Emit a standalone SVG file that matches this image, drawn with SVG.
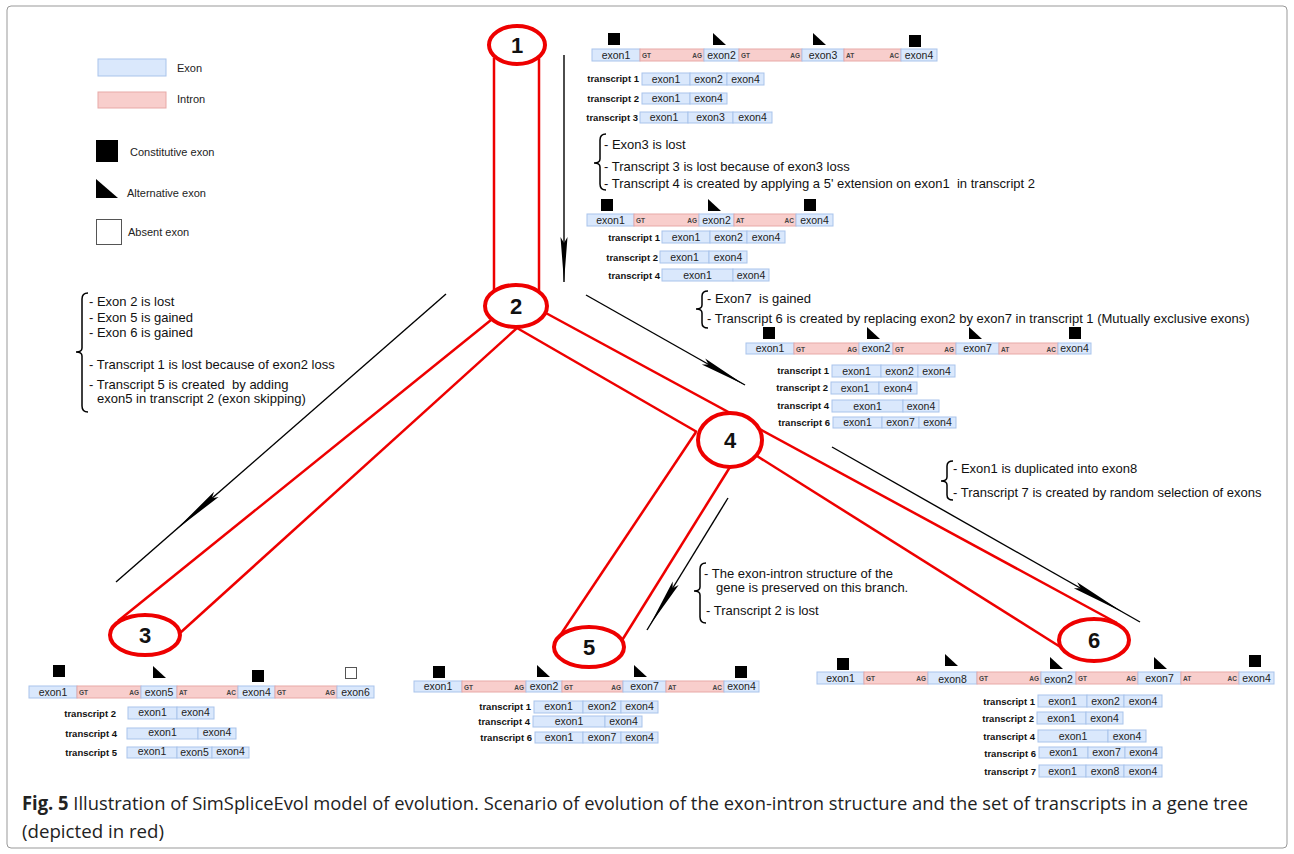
<svg xmlns="http://www.w3.org/2000/svg" xmlns:xlink="http://www.w3.org/1999/xlink" width="1294" height="854" viewBox="0 0 1294 854">
<style>
text{font-family:"Liberation Sans",Arial,sans-serif;fill:#222}
.ex{fill:#dae8fc;stroke:#a9c4eb;stroke-width:1}
.in{fill:#f8cecc;stroke:#e8a9a7;stroke-width:1}
.el{font-size:10.5px;text-anchor:middle}
.ss{font-size:6.5px;font-weight:bold;fill:#444}
.se{font-size:6.5px;font-weight:bold;fill:#444;text-anchor:end}
.tl{font-size:9.5px;font-weight:bold;text-anchor:end;fill:#111}
.note{font-size:13px;fill:#111;white-space:pre}
.lg{font-size:11px;fill:#222}
.node ellipse{fill:#fff;stroke:#ee0000;stroke-width:4}
.node text{font-size:22px;font-weight:bold;text-anchor:middle;fill:#111}
.br{stroke:#ee0000;stroke-width:2.5;fill:none}
.ar{stroke:#000;stroke-width:1.4}
.ah{fill:#000}
.brace{stroke:#000;stroke-width:1.5;fill:none}
</style>
<defs>
<rect id="sq" width="12" height="12" fill="#000"/>
<path id="tri" d="M0,0 L13,12 L0,12 Z" fill="#000"/>
</defs>
<rect x="7" y="6" width="1280" height="842" rx="4" fill="#fff" stroke="#999" stroke-width="1"/>

<g id="legend">
<rect class="ex" x="98" y="59" width="68" height="17"/>
<text class="lg" x="177" y="72">Exon</text>
<rect class="in" x="98" y="92" width="68" height="16"/>
<text class="lg" x="177" y="103">Intron</text>
<rect x="96" y="140" width="22" height="22" fill="#000"/>
<text class="lg" x="130" y="156">Constitutive exon</text>
<path d="M96,179 L118,198 L96,198 Z" fill="#000"/>
<text class="lg" x="127" y="197">Alternative exon</text>
<rect x="96.5" y="219.5" width="25" height="25" fill="#fff" stroke="#555" stroke-width="1"/>
<text class="lg" x="128" y="236">Absent exon</text>
</g>

<g id="connectors">
<line class="br" x1="494" y1="58" x2="494" y2="297"/>
<line class="br" x1="539" y1="58" x2="539" y2="296"/>
<line class="br" x1="491" y1="320" x2="118" y2="621"/>
<line class="br" x1="517" y1="328" x2="180" y2="633"/>
<line class="br" x1="544" y1="312" x2="1117" y2="623"/>
<line class="br" x1="517" y1="328" x2="697" y2="432"/>
<line class="br" x1="757" y1="456" x2="1062" y2="648"/>
<line class="br" x1="696" y1="432" x2="557" y2="640"/>
<line class="br" x1="730" y1="467" x2="621" y2="642"/>

<line class="ar" x1="564" y1="55" x2="564" y2="282"/>
<polygon class="ah" points="564,282 567.5,237 564,243 560.5,237"/>
<line class="ar" x1="446" y1="294" x2="116" y2="582"/>
<polygon class="ah" points="175,530.5 218.6,497 211.8,498.3 214,491.8"/>
<line class="ar" x1="586" y1="295" x2="745" y2="385"/>
<polygon class="ah" points="744.3,384.7 701.8,364.6 708.7,364.6 705.2,358.6"/>
<line class="ar" x1="832" y1="447" x2="1140" y2="622"/>
<polygon class="ah" points="1123.3,612.5 1073.8,588.3 1080.7,588.3 1077.2,582.3"/>
<line class="ar" x1="728" y1="498" x2="647" y2="630"/>
<polygon class="ah" points="649.5,625.8 678.7,585 672.6,588.3 672.7,581.4"/>
</g>

<g id="node1" class="node"><ellipse cx="517" cy="45" rx="28" ry="19"/><text x="517" y="53">1</text></g>
<g id="node2" class="node"><ellipse cx="516" cy="306" rx="31" ry="21"/><text x="516" y="314">2</text></g>
<g id="node3" class="node"><ellipse cx="145" cy="635" rx="35" ry="20"/><text x="145" y="643">3</text></g>
<g id="node4" class="node"><ellipse cx="730" cy="440" rx="32" ry="27"/><text x="730" y="448">4</text></g>
<g id="node5" class="node"><ellipse cx="589" cy="647" rx="35" ry="20"/><text x="589" y="655">5</text></g>
<g id="node6" class="node"><ellipse cx="1094" cy="640" rx="35" ry="21"/><text x="1094" y="648">6</text></g>

<g id="gene1">
<use href="#sq" x="608" y="33"/><use href="#tri" x="713" y="33"/><use href="#tri" x="813" y="33"/><use href="#sq" x="909" y="35"/>
<rect class="ex" x="592" y="49" width="48" height="12"/><text class="el" x="616" y="58.5">exon1</text>
<rect class="in" x="640" y="49" width="64" height="12"/><text class="ss" x="642" y="57.5">GT</text><text class="se" x="702" y="57.5">AG</text>
<rect class="ex" x="704" y="49" width="35" height="12"/><text class="el" x="721.5" y="58.5">exon2</text>
<rect class="in" x="739" y="49" width="63" height="12"/><text class="ss" x="741" y="57.5">GT</text><text class="se" x="800" y="57.5">AG</text>
<rect class="ex" x="802" y="49" width="42" height="12"/><text class="el" x="823" y="58.5">exon3</text>
<rect class="in" x="844" y="49" width="57" height="12"/><text class="ss" x="846" y="57.5">AT</text><text class="se" x="899" y="57.5">AC</text>
<rect class="ex" x="901" y="49" width="36" height="12"/><text class="el" x="919" y="58.5">exon4</text>
<text class="tl" x="639" y="82">transcript 1</text>
<rect class="ex" x="642" y="73" width="48" height="12"/><text class="el" x="666" y="82.5">exon1</text>
<rect class="ex" x="690" y="73" width="37" height="12"/><text class="el" x="708.5" y="82.5">exon2</text>
<rect class="ex" x="727" y="73" width="37" height="12"/><text class="el" x="745.5" y="82.5">exon4</text>
<text class="tl" x="639" y="102">transcript 2</text>
<rect class="ex" x="642" y="93" width="48" height="11"/><text class="el" x="666" y="102">exon1</text>
<rect class="ex" x="690" y="93" width="37" height="11"/><text class="el" x="708.5" y="102">exon4</text>
<text class="tl" x="638" y="121">transcript 3</text>
<rect class="ex" x="640" y="112" width="48" height="11"/><text class="el" x="664" y="121">exon1</text>
<rect class="ex" x="688" y="112" width="45" height="11"/><text class="el" x="710.5" y="121">exon3</text>
<rect class="ex" x="733" y="112" width="39" height="11"/><text class="el" x="752.5" y="121">exon4</text>
</g>

<g id="note1">
<path class="brace" d="M606,134 Q600,134 600,140 L600,159 Q600,163 594,163 Q600,163 600,167 L600,184 Q600,190 606,190"/>
<text class="note" x="604" y="149">- Exon3 is lost</text>
<text class="note" x="604" y="171">- Transcript 3 is lost because of exon3 loss</text>
<text class="note" x="604" y="188">- Transcript 4 is created by applying a 5' extension on exon1  in transcript 2</text>
</g>

<g id="gene2">
<use href="#sq" x="601" y="199"/><use href="#tri" x="708" y="199"/><use href="#sq" x="804" y="199"/>
<rect class="ex" x="587" y="214" width="47" height="12"/><text class="el" x="610.5" y="223.5">exon1</text>
<rect class="in" x="634" y="214" width="65" height="12"/><text class="ss" x="636" y="222.5">GT</text><text class="se" x="697" y="222.5">AG</text>
<rect class="ex" x="699" y="214" width="35" height="12"/><text class="el" x="716.5" y="223.5">exon2</text>
<rect class="in" x="734" y="214" width="62" height="12"/><text class="ss" x="736" y="222.5">AT</text><text class="se" x="794" y="222.5">AC</text>
<rect class="ex" x="796" y="214" width="37" height="12"/><text class="el" x="814.5" y="223.5">exon4</text>
<text class="tl" x="660" y="240.5">transcript 1</text>
<rect class="ex" x="662" y="231" width="48" height="12"/><text class="el" x="686" y="240.5">exon1</text>
<rect class="ex" x="710" y="231" width="37" height="12"/><text class="el" x="728.5" y="240.5">exon2</text>
<rect class="ex" x="747" y="231" width="38" height="12"/><text class="el" x="766" y="240.5">exon4</text>
<text class="tl" x="658" y="260.5">transcript 2</text>
<rect class="ex" x="660" y="251" width="49" height="12"/><text class="el" x="684.5" y="260.5">exon1</text>
<rect class="ex" x="709" y="251" width="38" height="12"/><text class="el" x="728" y="260.5">exon4</text>
<text class="tl" x="660" y="278.5">transcript 4</text>
<rect class="ex" x="662" y="269" width="71" height="12"/><text class="el" x="697.5" y="278.5">exon1</text>
<rect class="ex" x="733" y="269" width="36" height="12"/><text class="el" x="751" y="278.5">exon4</text>
</g>

<g id="note2">
<path class="brace" d="M88,293 Q82,293 82,299 L82,348 Q82,352 76,352 Q82,352 82,356 L82,406 Q82,412 88,412"/>
<text class="note" x="89" y="306">- Exon 2 is lost</text>
<text class="note" x="89" y="322">- Exon 5 is gained</text>
<text class="note" x="89" y="337">- Exon 6 is gained</text>
<text class="note" x="89" y="369">- Transcript 1 is lost because of exon2 loss</text>
<text class="note" x="89" y="389">- Transcript 5 is created  by adding</text>
<text class="note" x="97" y="403">exon5 in transcript 2 (exon skipping)</text>
</g>

<g id="note3">
<path class="brace" d="M708,291 Q702,291 702,296 L702,305 Q702,309 696,309 Q702,309 702,313 L702,323 Q702,328 708,328"/>
<text class="note" x="707" y="303">- Exon7  is gained</text>
<text class="note" x="707" y="323">- Transcript 6 is created by replacing exon2 by exon7 in transcript 1 (Mutually exclusive exons)</text>
</g>

<g id="gene3">
<use href="#sq" x="763" y="327"/><use href="#tri" x="867" y="327"/><use href="#tri" x="969" y="327"/><use href="#sq" x="1069" y="327"/>
<rect class="ex" x="746" y="343" width="48" height="11"/><text class="el" x="770" y="352">exon1</text>
<rect class="in" x="794" y="343" width="65" height="11"/><text class="ss" x="796" y="351.5">GT</text><text class="se" x="857" y="351.5">AG</text>
<rect class="ex" x="859" y="343" width="34" height="11"/><text class="el" x="876" y="352">exon2</text>
<rect class="in" x="893" y="343" width="63" height="11"/><text class="ss" x="895" y="351.5">GT</text><text class="se" x="954" y="351.5">AG</text>
<rect class="ex" x="956" y="343" width="43" height="11"/><text class="el" x="977.5" y="352">exon7</text>
<rect class="in" x="999" y="343" width="59" height="11"/><text class="ss" x="1001" y="351.5">AT</text><text class="se" x="1056" y="351.5">AC</text>
<rect class="ex" x="1058" y="343" width="33" height="11"/><text class="el" x="1074.5" y="352">exon4</text>
<text class="tl" x="829" y="374">transcript 1</text>
<rect class="ex" x="832" y="365" width="49" height="12"/><text class="el" x="856.5" y="374.5">exon1</text>
<rect class="ex" x="881" y="365" width="37" height="12"/><text class="el" x="899.5" y="374.5">exon2</text>
<rect class="ex" x="918" y="365" width="37" height="12"/><text class="el" x="936.5" y="374.5">exon4</text>
<text class="tl" x="828" y="391">transcript 2</text>
<rect class="ex" x="831" y="382" width="48" height="12"/><text class="el" x="855" y="391.5">exon1</text>
<rect class="ex" x="879" y="382" width="38" height="12"/><text class="el" x="898" y="391.5">exon4</text>
<text class="tl" x="829" y="409">transcript 4</text>
<rect class="ex" x="832" y="400" width="71" height="12"/><text class="el" x="867.5" y="409.5">exon1</text>
<rect class="ex" x="903" y="400" width="36" height="12"/><text class="el" x="921" y="409.5">exon4</text>
<text class="tl" x="830" y="426">transcript 6</text>
<rect class="ex" x="833" y="417" width="49" height="11"/><text class="el" x="857.5" y="426">exon1</text>
<rect class="ex" x="882" y="417" width="37" height="11"/><text class="el" x="900.5" y="426">exon7</text>
<rect class="ex" x="919" y="417" width="37" height="11"/><text class="el" x="937.5" y="426">exon4</text>
</g>

<g id="note4">
<path class="brace" d="M953,461 Q947,461 947,466 L947,477 Q947,481 941,481 Q947,481 947,485 L947,495 Q947,500 953,500"/>
<text class="note" x="953" y="473">- Exon1 is duplicated into exon8</text>
<text class="note" x="953" y="497">- Transcript 7 is created by random selection of exons</text>
</g>

<g id="note5">
<path class="brace" d="M706,563 Q700,563 700,569 L700,587 Q700,591 694,591 Q700,591 700,595 L700,617 Q700,623 706,623"/>
<text class="note" x="704" y="578">- The exon-intron structure of the</text>
<text class="note" x="716" y="592">gene is preserved on this branch.</text>
<text class="note" x="706" y="615">- Transcript 2 is lost</text>
</g>

<g id="gene4">
<use href="#sq" x="53" y="665"/><use href="#tri" x="153" y="666"/><use href="#sq" x="252" y="670"/>
<rect x="345.5" y="667.5" width="11" height="11" fill="#fff" stroke="#555" stroke-width="1"/>
<rect class="ex" x="29" y="686" width="48" height="12"/><text class="el" x="53" y="695.5">exon1</text>
<rect class="in" x="77" y="686" width="64" height="12"/><text class="ss" x="79" y="694.5">GT</text><text class="se" x="139" y="694.5">AG</text>
<rect class="ex" x="141" y="686" width="36" height="12"/><text class="el" x="159" y="695.5">exon5</text>
<rect class="in" x="177" y="686" width="61" height="12"/><text class="ss" x="179" y="694.5">AT</text><text class="se" x="236" y="694.5">AC</text>
<rect class="ex" x="238" y="686" width="37" height="12"/><text class="el" x="256.5" y="695.5">exon4</text>
<rect class="in" x="275" y="686" width="62" height="12"/><text class="ss" x="277" y="694.5">GT</text><text class="se" x="335" y="694.5">AG</text>
<rect class="ex" x="337" y="686" width="37" height="12"/><text class="el" x="355.5" y="695.5">exon6</text>
<text class="tl" x="116" y="716.5">transcript 2</text>
<rect class="ex" x="128" y="707" width="49" height="12"/><text class="el" x="152.5" y="715.5">exon1</text>
<rect class="ex" x="177" y="707" width="37" height="12"/><text class="el" x="195.5" y="715.5">exon4</text>
<text class="tl" x="117" y="737">transcript 4</text>
<rect class="ex" x="127" y="728" width="71" height="11"/><text class="el" x="162.5" y="736">exon1</text>
<rect class="ex" x="198" y="728" width="38" height="11"/><text class="el" x="217" y="736">exon4</text>
<text class="tl" x="117" y="756">transcript 5</text>
<rect class="ex" x="127" y="747" width="50" height="11"/><text class="el" x="152" y="755">exon1</text>
<rect class="ex" x="177" y="747" width="35" height="11"/><text class="el" x="194.5" y="755.5">exon5</text>
<rect class="ex" x="212" y="747" width="37" height="11"/><text class="el" x="230.5" y="755">exon4</text>
</g>

<g id="gene5">
<use href="#sq" x="433" y="666"/><use href="#tri" x="537" y="665"/><use href="#tri" x="634" y="665"/><use href="#sq" x="735" y="666"/>
<rect class="ex" x="414" y="681" width="48" height="11"/><text class="el" x="438" y="690">exon1</text>
<rect class="in" x="462" y="681" width="64" height="11"/><text class="ss" x="464" y="689.5">GT</text><text class="se" x="524" y="689.5">AG</text>
<rect class="ex" x="526" y="681" width="36" height="11"/><text class="el" x="544" y="690">exon2</text>
<rect class="in" x="562" y="681" width="61" height="11"/><text class="ss" x="564" y="689.5">GT</text><text class="se" x="621" y="689.5">AG</text>
<rect class="ex" x="623" y="681" width="43" height="11"/><text class="el" x="644.5" y="690">exon7</text>
<rect class="in" x="666" y="681" width="58" height="11"/><text class="ss" x="668" y="689.5">AT</text><text class="se" x="722" y="689.5">AC</text>
<rect class="ex" x="724" y="681" width="35" height="11"/><text class="el" x="741.5" y="690">exon4</text>
<text class="tl" x="531" y="710">transcript 1</text>
<rect class="ex" x="534" y="701" width="49" height="12"/><text class="el" x="558.5" y="710">exon1</text>
<rect class="ex" x="583" y="701" width="38" height="12"/><text class="el" x="602" y="710">exon2</text>
<rect class="ex" x="621" y="701" width="37" height="12"/><text class="el" x="639.5" y="710">exon4</text>
<text class="tl" x="530" y="725">transcript 4</text>
<rect class="ex" x="533" y="716" width="72" height="11"/><text class="el" x="569" y="724.5">exon1</text>
<rect class="ex" x="605" y="716" width="37" height="11"/><text class="el" x="623.5" y="724.5">exon4</text>
<text class="tl" x="532" y="741">transcript 6</text>
<rect class="ex" x="535" y="732" width="48" height="11"/><text class="el" x="559" y="741">exon1</text>
<rect class="ex" x="583" y="732" width="38" height="11"/><text class="el" x="602" y="741">exon7</text>
<rect class="ex" x="621" y="732" width="37" height="11"/><text class="el" x="639.5" y="741">exon4</text>
</g>

<g id="gene6">
<use href="#sq" x="837" y="658"/><use href="#tri" x="945" y="654"/><use href="#tri" x="1050" y="657"/><use href="#tri" x="1154" y="657"/><use href="#sq" x="1249" y="655"/>
<rect class="ex" x="817" y="672" width="47" height="12"/><text class="el" x="840.5" y="681.5">exon1</text>
<rect class="in" x="864" y="672" width="64" height="12"/><text class="ss" x="866" y="680.5">GT</text><text class="se" x="926" y="680.5">AG</text>
<rect class="ex" x="928" y="672" width="49" height="12"/><text class="el" x="952.5" y="683">exon8</text>
<rect class="in" x="977" y="672" width="64" height="12"/><text class="ss" x="979" y="680.5">GT</text><text class="se" x="1039" y="680.5">AG</text>
<rect class="ex" x="1041" y="672" width="35" height="12"/><text class="el" x="1058.5" y="683">exon2</text>
<rect class="in" x="1076" y="672" width="62" height="12"/><text class="ss" x="1078" y="680.5">GT</text><text class="se" x="1136" y="680.5">AG</text>
<rect class="ex" x="1138" y="672" width="43" height="12"/><text class="el" x="1159.5" y="682">exon7</text>
<rect class="in" x="1181" y="672" width="58" height="12"/><text class="ss" x="1183" y="680.5">AT</text><text class="se" x="1237" y="680.5">AC</text>
<rect class="ex" x="1239" y="672" width="35" height="12"/><text class="el" x="1256.5" y="682">exon4</text>
<text class="tl" x="1035" y="704.5">transcript 1</text>
<rect class="ex" x="1038" y="695" width="49" height="12"/><text class="el" x="1062.5" y="704.5">exon1</text>
<rect class="ex" x="1087" y="695" width="37" height="12"/><text class="el" x="1105.5" y="704.5">exon2</text>
<rect class="ex" x="1124" y="695" width="38" height="12"/><text class="el" x="1143" y="704.5">exon4</text>
<text class="tl" x="1034" y="721.5">transcript 2</text>
<rect class="ex" x="1037" y="712" width="49" height="12"/><text class="el" x="1061.5" y="721.5">exon1</text>
<rect class="ex" x="1086" y="712" width="37" height="12"/><text class="el" x="1104.5" y="721.5">exon4</text>
<text class="tl" x="1035" y="739.5">transcript 4</text>
<rect class="ex" x="1038" y="730" width="70" height="12"/><text class="el" x="1073" y="739.5">exon1</text>
<rect class="ex" x="1108" y="730" width="38" height="12"/><text class="el" x="1127" y="739.5">exon4</text>
<text class="tl" x="1036" y="756.5">transcript 6</text>
<rect class="ex" x="1039" y="747" width="49" height="11"/><text class="el" x="1063.5" y="756">exon1</text>
<rect class="ex" x="1088" y="747" width="37" height="11"/><text class="el" x="1106.5" y="756">exon7</text>
<rect class="ex" x="1125" y="747" width="37" height="11"/><text class="el" x="1143.5" y="756">exon4</text>
<text class="tl" x="1036" y="774.5">transcript 7</text>
<rect class="ex" x="1039" y="765" width="47" height="12"/><text class="el" x="1062.5" y="774.5">exon1</text>
<rect class="ex" x="1086" y="765" width="38" height="12"/><text class="el" x="1105" y="774.5">exon8</text>
<rect class="ex" x="1124" y="765" width="38" height="12"/><text class="el" x="1143" y="774.5">exon4</text>
</g>

<g id="caption">
<text x="22" y="810" font-size="19" textLength="1226" lengthAdjust="spacingAndGlyphs" style="font-family:'Open Sans',sans-serif;fill:#222"><tspan font-weight="bold">Fig. 5</tspan> Illustration of SimSpliceEvol model of evolution. Scenario of evolution of the exon-intron structure and the set of transcripts in a gene tree</text>
<text x="22" y="838" font-size="19" textLength="142" lengthAdjust="spacingAndGlyphs" style="font-family:'Open Sans',sans-serif;fill:#222">(depicted in red)</text>
</g>
</svg>
